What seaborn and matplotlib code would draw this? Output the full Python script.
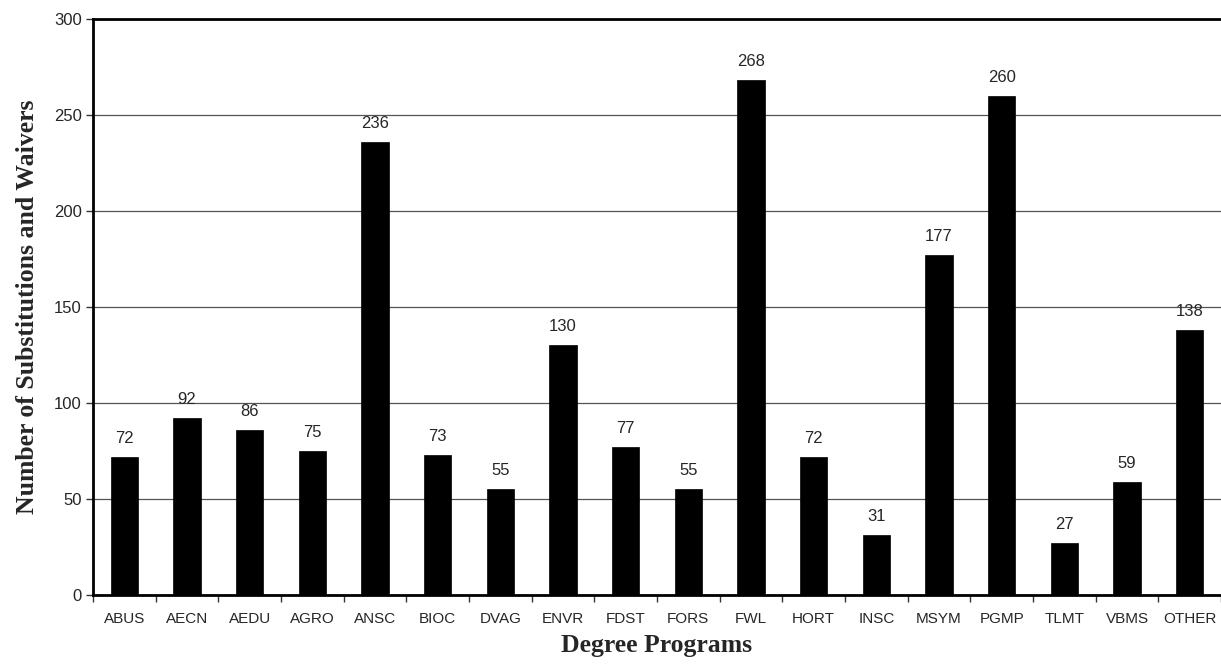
import pandas as pd
import seaborn as sns
import matplotlib.pyplot as plt

# ==================== DATA ====================

programs = ["ABUS", "AECN", "AEDU", "AGRO", "ANSC", "BIOC", "DVAG", "ENVR", "FDST",
            "FORS", "FWL", "HORT", "INSC", "MSYM", "PGMP", "TLMT", "VBMS", "OTHER"]
counts = [72, 92, 86, 75, 236, 73, 55, 130, 77, 55, 268, 72, 31, 177, 260, 27, 59, 138]

df = pd.DataFrame({"program": programs, "count": counts})

# ==================== PLOT ====================

sns.set_style("white")
plt.rcParams['font.family'] = ['Liberation Sans', 'DejaVu Sans']

fig = plt.figure(figsize=(12.21, 6.68), dpi=100)
ax = fig.add_axes([0.0762, 0.1093, 0.9238, 0.8623])

sns.barplot(data=df, x="program", y="count", color="black", width=0.44,
            saturation=1, edgecolor="black", linewidth=0.5, ax=ax, zorder=3)

ax.set_ylim(0, 300)
ax.set_xlim(-0.5, len(programs) - 0.5)
ax.set_yticks(range(0, 301, 50))
ax.yaxis.grid(True, color="#555555", linewidth=0.9, zorder=0)
ax.set_axisbelow(True)

for sp in ["left", "bottom", "top"]:
    ax.spines[sp].set_visible(True)
    ax.spines[sp].set_color("black")
    ax.spines[sp].set_linewidth(2)
ax.spines["right"].set_visible(False)

# ticks between categories
ax.set_xticks([i + 0.5 for i in range(-1, len(programs))], minor=True)
ax.tick_params(axis="x", which="major", length=0, labelsize=11, pad=12)
ax.tick_params(axis="x", which="minor", length=5, width=1, color="#333333",
               direction="out", bottom=True)
ax.tick_params(axis="y", length=5, width=1, color="#333333", direction="out",
               labelsize=12, left=True, pad=3)

for i, v in enumerate(counts):
    ax.annotate(str(v), (i, v), xytext=(0, 8), textcoords="offset points",
                ha="center", va="bottom", fontsize=12)

serif = ['Liberation Serif', 'DejaVu Serif']
ax.set_xlabel("Degree Programs", fontsize=18.5, fontweight="bold", family=serif,
              labelpad=6)
ax.set_ylabel("Number of Substitutions and Waivers", fontsize=18.5,
              fontweight="bold", family=serif, labelpad=11)

plt.savefig("out.png", dpi=100)
plt.close()
